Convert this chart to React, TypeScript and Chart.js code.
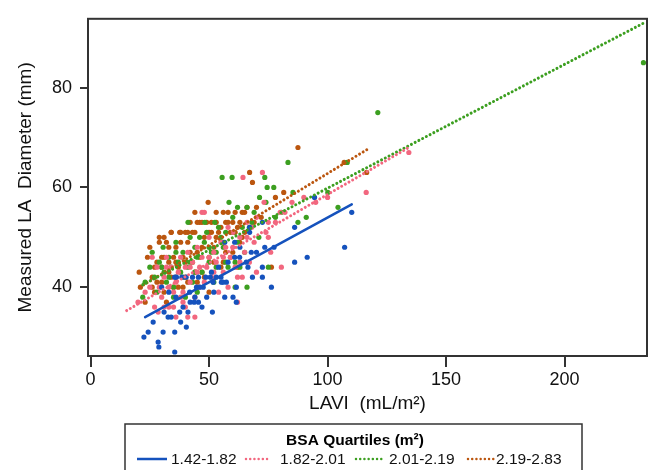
import React, { useEffect, useRef } from "react";
import { Chart, registerables } from "chart.js";

Chart.register(...registerables);

// ---- Data ----
const groupLabels = ["1.42-1.82", "1.82-2.01", "2.01-2.19", "2.19-2.83"];
const legendTitle = "BSA Quartiles (m²)";
const xTitle = "LAVI  (mL/m²)";
const yTitle = "Measured LA  Diameter (mm)";
const xTicks = [0, 50, 100, 150, 200];
const yTicks = [40, 60, 80];

const q1Points: number[][] = [
  [22.5, 30], [24.3, 31], [26.4, 33], [28.5, 29], [28.8, 28], [30.6, 31], [32.7, 34], [34, 34], [35.5, 27], [35.5, 31],
  [37.6, 35], [40.4, 32], [41.1, 35], [43.7, 37], [45.5, 37], [44, 38], [41.8, 39], [44.7, 40], [47.5, 40], [51.7, 41],
  [51.4, 35], [48.6, 42], [40.3, 42], [36.2, 42], [38.5, 42], [43, 42], [45.5, 42], [50.5, 42], [53, 42], [55, 42],
  [51, 43], [55.9, 41], [61.5, 40], [61.5, 37], [56.6, 38], [60.1, 38], [66.4, 44], [67.8, 47], [72.5, 42], [72.5, 44],
  [76.3, 40], [73.5, 48], [77.4, 48], [56.6, 49], [60.8, 49], [67.1, 51], [67.1, 52], [72.5, 53], [86.1, 52], [86.1, 45],
  [91.4, 46], [94.5, 58], [107.2, 48], [110.2, 55], [57.3, 41], [55.2, 41], [62.9, 46], [60.8, 46], [65.7, 45], [68.3, 42],
  [39, 36], [33, 39], [36, 38], [30, 40], [47, 36], [49, 38], [54, 44], [58, 45], [63, 48], [70, 47],
  [52, 39], [38, 33], [42, 37], [46, 40], [31, 35], [35.5, 42]
];
const q2Points: number[][] = [
  [20, 37], [23, 39], [25, 40], [26, 46], [28, 44], [28.5, 35], [30, 38], [31, 42], [32, 46], [33, 40],
  [34, 44], [35, 36], [36, 41], [37, 43], [38, 46], [39, 39], [40, 36], [40, 44], [41, 47], [42, 41],
  [43, 45], [44, 38], [45, 48], [45, 43], [46, 40], [47, 55], [48, 55], [47, 46], [49, 44], [50, 50],
  [51, 42], [52, 47], [53, 45], [54, 39], [55, 49], [56, 43], [57, 48], [58, 52], [59, 46], [60, 51],
  [61, 44], [62, 42], [63, 50], [64.3, 62], [65, 47], [66, 53], [67, 45], [68, 52], [69, 49], [70, 43],
  [72.5, 63], [73.2, 57], [74, 51], [75, 53], [76, 47], [78, 53], [80.5, 44], [82, 55], [85, 57], [90, 58],
  [95, 57], [100, 58], [116.3, 59], [134.3, 67], [27, 36], [31, 36], [38, 38], [44, 34], [41, 34], [36, 34],
  [33, 36], [39, 37], [62, 37], [64, 42], [58, 40], [29, 40], [32, 44], [35, 39], [42, 44], [46, 44],
  [48, 41], [50, 46], [52, 43], [56, 46], [60, 48], [63, 45], [66, 50], [70, 54], [75, 50], [80, 55]
];
const q3Points: number[][] = [
  [22, 38], [23, 41], [25, 44], [26, 47], [27, 42], [28, 39], [29, 45], [30.6, 48], [31, 43], [32, 41],
  [33, 46], [34, 44], [35, 38], [36, 49], [37, 45], [38, 43], [39, 47], [41.1, 53], [41, 44], [42, 50],
  [43, 41], [44, 48], [45, 46], [48.2, 53], [47, 43], [48, 49], [49, 51], [50, 45], [51, 47], [52.4, 53],
  [53, 44], [54, 52], [55.5, 62], [56, 48], [57, 45], [58.4, 57], [59.7, 62], [60, 51], [61, 40], [62, 49],
  [63, 44], [64, 52], [65, 47], [66, 40], [67, 52], [68, 53], [71.3, 58], [73.5, 62], [74.5, 60], [75, 44],
  [77.3, 60], [78, 54], [80.5, 55], [83.3, 65], [85.4, 59], [87.5, 53], [91, 54], [100.1, 59], [104.4, 56], [108.3, 65],
  [121.2, 75], [233.3, 85], [40, 38], [35, 40], [45, 39], [52, 41], [58, 44], [61, 45], [46, 50], [39, 42],
  [30, 44], [33, 42], [36, 47], [42, 45], [44, 43], [50, 48], [53, 47], [55, 50], [57, 51], [60, 54],
  [62, 56], [66, 56], [69, 55], [71, 50], [74, 57]
];
const q4Points: number[][] = [
  [20.5, 43], [21, 40], [23, 37], [24, 46], [25, 48], [26, 42], [27, 39], [28, 45], [29, 50], [30, 41],
  [31, 46], [32, 37], [33, 43], [34, 51], [35, 40], [36, 48], [37, 44], [38, 51], [39, 46], [40, 42],
  [41, 49], [42, 53], [43, 45], [44, 51], [45, 47], [46, 53], [47, 43], [48, 50], [49.6, 57], [50, 46],
  [51, 53], [52, 48], [53, 55], [54, 51], [55, 44], [56, 49], [57, 53], [58, 55], [59, 51], [60, 47],
  [61, 55], [62, 52], [63, 49], [64, 55], [65, 51], [66, 56], [67.1, 63], [68.3, 61], [69, 53], [70, 56],
  [72, 54], [76.3, 44], [78, 58], [81.5, 59], [87.5, 68], [107, 65], [116.5, 63], [30, 44], [33, 48], [36, 42],
  [39, 40], [45, 41], [50, 39], [42, 47], [46, 46], [53, 50], [57, 47], [59, 46], [62, 44], [28, 41],
  [31, 50], [48, 42], [55, 52], [44, 55], [40, 51], [64, 50], [37.6, 51], [34, 51], [26, 40], [52, 45],
  [29, 49], [32, 49], [35, 46], [38, 49], [41, 51], [43, 51], [45, 53], [47, 53], [49, 53], [50, 51],
  [51, 51], [53, 53], [56, 55], [58, 53], [60, 53], [61, 51], [63, 53], [65, 55], [33, 45], [36, 45],
  [40, 45], [34, 42], [37, 40], [41, 41], [44, 43], [56, 45], [27, 44], [30, 46], [47, 48], [31, 39]
];

// fitted lines (start / end points)
const q1Fit = [[23, 34], [110.2, 56.6]];
const q2Fit = [[15.2, 35.3], [135, 68.2]];
const q3Fit = [[22, 40.5], [233.6, 93]];
const q4Fit = [[20.8, 40], [116.7, 67.6]];

const colors = ["#1552bd", "#f2677f", "#3c9f20", "#bb560f"];

const toXY = (arr: number[][]) => arr.map(([x, y]) => ({ x, y }));

export default function App() {
  const ref = useRef<HTMLCanvasElement | null>(null);

  useEffect(() => {
    if (!ref.current) return;
    const pts = [q1Points, q2Points, q3Points, q4Points];
    const fits = [q1Fit, q2Fit, q3Fit, q4Fit];

    const scatterSets = pts.map((p, i) => ({
      type: "scatter" as const,
      label: groupLabels[i] + " pts",
      data: toXY(p),
      backgroundColor: colors[i],
      borderColor: colors[i],
      pointRadius: 2.6,
      pointBorderWidth: 0,
      order: 2,
    }));
    const lineSets = fits.map((f, i) => ({
      type: "line" as const,
      label: groupLabels[i],
      data: toXY(f),
      borderColor: colors[i],
      backgroundColor: colors[i],
      borderWidth: i === 0 ? 2.5 : 3,
      borderDash: i === 0 ? [] : [0.01, 4.2],
      borderCapStyle: "round" as const,
      pointRadius: 0,
      showLine: true,
      fill: false,
      order: 1,
    }));

    const frame = {
      id: "frame",
      afterDraw(chart: any) {
        const { ctx, chartArea } = chart;
        ctx.save();
        ctx.strokeStyle = "#333";
        ctx.lineWidth = 2;
        ctx.strokeRect(chartArea.left, chartArea.top, chartArea.right - chartArea.left, chartArea.bottom - chartArea.top);
        ctx.restore();

        // legend box
        ctx.save();
        ctx.strokeStyle = "#333";
        ctx.lineWidth = 1.5;
        ctx.strokeRect(125, 424, 457, 60);
        ctx.fillStyle = "#000";
        ctx.textAlign = "center";
        ctx.textBaseline = "middle";
        ctx.font = "bold 15.5px 'Liberation Sans', Arial, sans-serif";
        ctx.fillText(legendTitle, 355, 441);
        ctx.font = "15.5px 'Liberation Sans', Arial, sans-serif";
        ctx.textAlign = "left";
        const items = [
          { x0: 137, x1: 167, tx: 171 },
          { x0: 246, x1: 271, tx: 280 },
          { x0: 356, x1: 382, tx: 389 },
          { x0: 468, x1: 494, tx: 496 },
        ];
        items.forEach((it, i) => {
          ctx.strokeStyle = colors[i];
          ctx.lineWidth = 2.5;
          ctx.lineCap = i === 0 ? "butt" : "round";
          ctx.setLineDash(i === 0 ? [] : [0.01, 4.2]);
          ctx.beginPath();
          ctx.moveTo(it.x0, 459);
          ctx.lineTo(it.x1, 459);
          ctx.stroke();
          ctx.setLineDash([]);
          ctx.fillStyle = "#111";
          ctx.fillText(groupLabels[i], it.tx, 460);
        });
        ctx.restore();
      },
    };

    const chart = new Chart(ref.current, {
      type: "scatter",
      data: { datasets: [...scatterSets, ...lineSets] as any },
      options: {
        animation: false,
        responsive: false,
        layout: { padding: { top: 13, right: 3, left: 0, bottom: 0 } },
        plugins: { legend: { display: false }, tooltip: { enabled: false } },
        scales: {
          x: {
            type: "linear",
            min: -1.1,
            max: 234.8,
            afterFit: (s: any) => { s.height = 114; },
            afterBuildTicks: (s: any) => { s.ticks = xTicks.map((v) => ({ value: v })); },
            grid: { display: true, drawOnChartArea: false, drawTicks: true, tickLength: 11, color: "#333", lineWidth: 2 },
            border: { display: true, color: "#333", width: 2 },
            ticks: { color: "#111", font: { size: 18, family: "'Liberation Sans', Arial, sans-serif" }, padding: 2, maxRotation: 0 },
            title: { display: true, text: xTitle, color: "#111", font: { size: 19, family: "'Liberation Sans', Arial, sans-serif" }, padding: { top: 0, bottom: 55 } },
          },
          y: {
            type: "linear",
            min: 26.2,
            max: 93.8,
            afterFit: (s: any) => { s.width = 88; },
            afterBuildTicks: (s: any) => { s.ticks = yTicks.map((v) => ({ value: v })); },
            grid: { display: true, drawOnChartArea: false, drawTicks: true, tickLength: 8, color: "#333", lineWidth: 2 },
            border: { display: true, color: "#333", width: 2 },
            ticks: { color: "#111", font: { size: 18, family: "'Liberation Sans', Arial, sans-serif" }, padding: 8 },
            title: { display: true, text: yTitle, color: "#111", font: { size: 19, family: "'Liberation Sans', Arial, sans-serif" }, padding: { top: 14, bottom: 0 } },
          },
        },
      },
      plugins: [frame],
    });
    return () => chart.destroy();
  }, []);

  return (
    <div style={{ position: "fixed", left: 0, top: 0, width: 651, height: 470, background: "#fff" }}>
      <canvas ref={ref} width={651} height={470} style={{ width: 651, height: 470, display: "block" }} />
    </div>
  );
}
